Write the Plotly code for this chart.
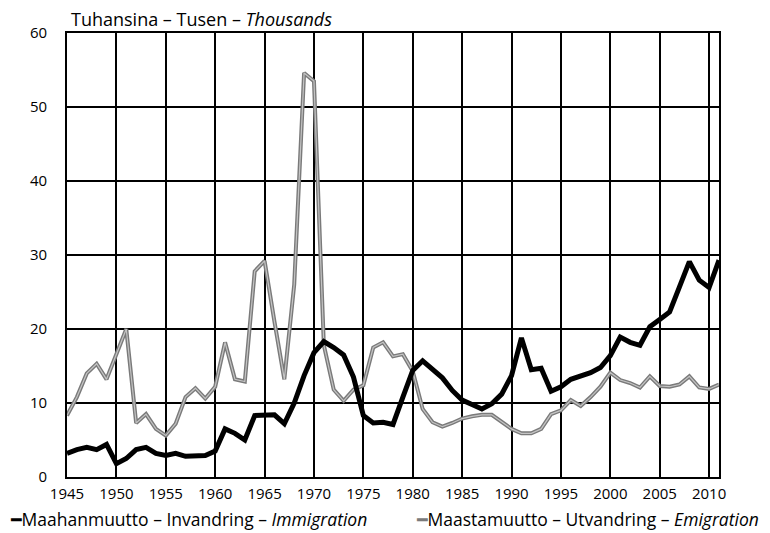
import plotly.graph_objects as go

years = list(range(1945, 2012))

immigration = [
    3.2, 3.7, 4.0, 3.7, 4.4, 1.8, 2.5, 3.7, 4.0, 3.2,
    2.9, 3.2, 2.8, 2.8, 2.9, 3.5, 6.5, 5.9, 5.0, 8.3,
    8.4, 8.4, 7.2, 10.0, 13.7, 16.8, 18.3, 17.5, 16.5, 13.5,
    8.3, 7.3, 7.4, 7.1, 10.8, 14.4, 15.7, 14.6, 13.4, 11.7,
    10.4, 9.8, 9.2, 9.9, 11.2, 13.7, 18.8, 14.5, 14.7, 11.6,
    12.2, 13.2, 13.6, 14.1, 14.8, 16.4, 18.9, 18.2, 17.8, 20.3,
    21.3, 22.3, 25.7, 29.1, 26.6, 25.6, 29.3,
]

emigration = [
    8.3, 10.8, 14.0, 15.3, 13.2, 16.6, 20.0, 7.3, 8.5, 6.5,
    5.6, 7.2, 10.8, 12.0, 10.6, 12.2, 18.2, 13.2, 12.9, 27.8,
    29.2, 21.0, 13.2, 26.0, 54.6, 53.5, 17.8, 11.8, 10.3, 11.8,
    12.4, 17.5, 18.2, 16.3, 16.6, 14.3, 9.2, 7.4, 6.8, 7.3,
    7.9, 8.2, 8.4, 8.4, 7.5, 6.5, 5.9, 5.9, 6.5, 8.5,
    9.0, 10.4, 9.6, 10.8, 12.2, 14.1, 13.1, 12.7, 12.1, 13.6,
    12.3, 12.2, 12.5, 13.6, 12.1, 11.9, 12.5,
]

x_ticks = list(range(1945, 2011, 5))
y_ticks = [0, 10, 20, 30, 40, 50, 60]

name_imm = "Maahanmuutto – Invandring – <i>Immigration</i>"
name_emi = "Maastamuutto – Utvandring – <i>Emigration</i>"
title_text = "Tuhansina – Tusen – <i>Thousands</i>"

FONT = "Open Sans, Noto Sans, sans-serif"
IMM_COLOR = "black"
EMI_OUTER = "#7a7a7a"
EMI_INNER = "#c4c4c4"

fig = go.Figure()
fig.add_trace(go.Scatter(
    x=years, y=emigration, mode="lines", name=name_emi,
    line=dict(color=EMI_OUTER, width=4), showlegend=False,
))
fig.add_trace(go.Scatter(
    x=years, y=emigration, mode="lines", name=name_emi + " (inner)",
    line=dict(color=EMI_INNER, width=1.2), showlegend=False, hoverinfo="skip",
))
fig.add_trace(go.Scatter(
    x=years, y=immigration, mode="lines", name=name_imm,
    line=dict(color=IMM_COLOR, width=5), showlegend=False,
))

marker_style = "font-family:DejaVu Sans"
legend_imm = f'<span style="color:{IMM_COLOR};{marker_style}">━</span>' + name_imm
legend_emi = f'<span style="color:{EMI_OUTER};{marker_style}">━</span>' + name_emi

fig.update_layout(
    width=770, height=533,
    margin=dict(l=59, r=59, t=25, b=64, autoexpand=False),
    paper_bgcolor="white", plot_bgcolor="white",
    font=dict(family=FONT, size=14, color="black"),
    showlegend=False,
    annotations=[
        dict(
            text=title_text, xref="paper", yref="paper", x=0, y=1,
            xanchor="left", yanchor="bottom", xshift=2, yshift=0,
            showarrow=False, font=dict(size=18, family=FONT, color="black"),
        ),
        dict(
            text=legend_imm, xref="paper", yref="paper", x=0, y=0,
            xanchor="left", yanchor="middle", xshift=-59, yshift=-42,
            showarrow=False, font=dict(size=17.5, family=FONT, color="black"),
        ),
        dict(
            text=legend_emi, xref="paper", yref="paper", x=1, y=0,
            xanchor="right", yanchor="middle", xshift=42, yshift=-42,
            showarrow=False, font=dict(size=17.5, family=FONT, color="black"),
        ),
    ],
)

fig.update_xaxes(
    range=[1945, 2011], tickvals=x_ticks, ticktext=[str(v) for v in x_ticks],
    showgrid=True, gridcolor="black", gridwidth=1.6,
    showline=True, linecolor="black", linewidth=1.6, mirror=True,
    ticks="", ticklabelstandoff=2, zeroline=False, automargin=False,
    tickfont=dict(size=15, family=FONT),
)
fig.update_yaxes(
    range=[0, 60], tickvals=y_ticks, ticktext=[str(v) for v in y_ticks],
    showgrid=True, gridcolor="black", gridwidth=1.6,
    showline=True, linecolor="black", linewidth=1.6, mirror=True,
    ticks="", ticklabelstandoff=15, zeroline=False, automargin=False,
    tickfont=dict(size=15, family=FONT),
)

fig.write_html("out.html")
